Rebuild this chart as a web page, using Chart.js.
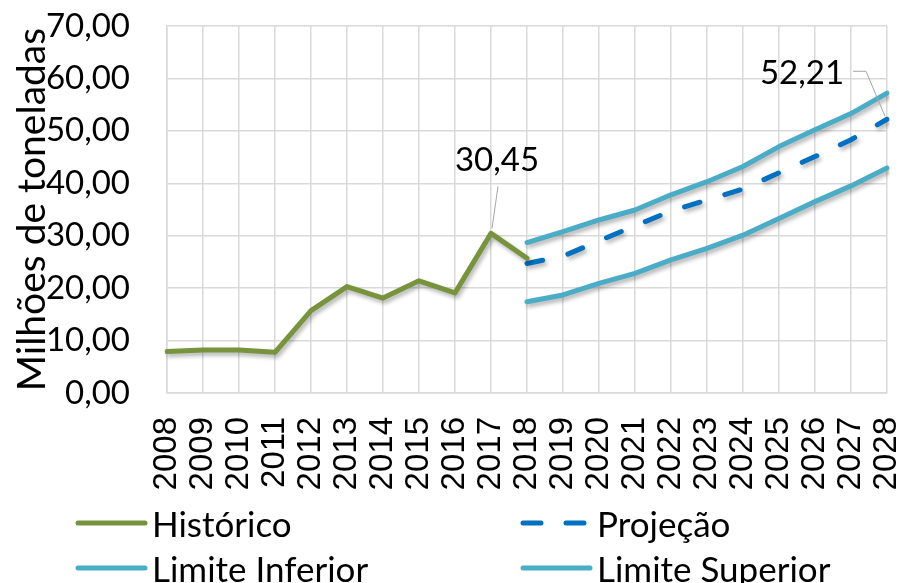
<!DOCTYPE html>
<html><head><meta charset="utf-8">
<script src="https://cdn.jsdelivr.net/npm/chart.js@4/dist/chart.umd.min.js"></script>
<style>
html,body{margin:0;padding:0;background:#fff;}
#wrap{position:relative;width:902px;height:583px;overflow:hidden;}
#legend{position:absolute;left:0;top:0;width:902px;height:583px;pointer-events:none;font-family:Lato,sans-serif;}
.li{position:absolute;display:flex;align-items:center;font-size:35px;color:#000;white-space:nowrap;line-height:1;}
.li canvas{margin-right:4px;}
</style></head><body>
<div id="wrap"><canvas id="c" width="902" height="583"></canvas><div id="legend"></div></div>
<script>
const years = ['2008','2009','2010','2011','2012','2013','2014','2015','2016','2017','2018','2019','2020','2021','2022','2023','2024','2025','2026','2027','2028'];
const historico = [7.9, 8.2, 8.2, 7.75, 15.7, 20.3, 18.1, 21.4, 19.1, 30.45, 25.7, null, null, null, null, null, null, null, null, null, null];
const projecao = [null, null, null, null, null, null, null, null, null, null, 24.7, 26.1, 29.0, 31.9, 34.7, 36.8, 38.9, 42.0, 45.1, 48.3, 52.21];
const limiteInferior = [null, null, null, null, null, null, null, null, null, null, 17.4, 18.7, 20.9, 22.8, 25.4, 27.6, 30.1, 33.3, 36.5, 39.5, 42.9];
const limiteSuperior = [null, null, null, null, null, null, null, null, null, null, 28.7, 30.8, 33.0, 34.9, 37.8, 40.3, 43.2, 47.0, 50.2, 53.3, 57.2];
const yTicks = [0, 10, 20, 30, 40, 50, 60, 70];
const yTitle = 'Milhões de toneladas';
const seriesNames = ['Histórico', 'Projeção', 'Limite Inferior', 'Limite Superior'];

const GREEN = '#77933C', BLUE = '#0070C0', CYAN = '#4BACC6';
const fmt = v => v.toFixed(2).replace('.', ',');

const shadowPlugin = {
  id: 'shadow',
  beforeDatasetDraw(chart) {
    const ctx = chart.ctx; ctx.save();
    ctx.shadowColor = 'rgba(0,0,0,0.3)';
    ctx.shadowBlur = 4; ctx.shadowOffsetX = 2; ctx.shadowOffsetY = 3;
  },
  afterDatasetDraw(chart) { chart.ctx.restore(); }
};

const labelPlugin = {
  id: 'valueLabels',
  afterDatasetsDraw(chart) {
    const ctx = chart.ctx;
    ctx.save();
    ctx.font = '33px Lato';
    ctx.fillStyle = '#000';
    ctx.textAlign = 'center'; ctx.textBaseline = 'middle';
    ctx.strokeStyle = '#A6A6A6'; ctx.lineWidth = 1;
    let mi = 0; historico.forEach((v, i) => { if (v != null && v > historico[mi]) mi = i; });
    const p = chart.getDatasetMeta(0).data[mi];
    ctx.beginPath(); ctx.moveTo(p.x + 7, p.y - 47); ctx.lineTo(p.x + 1, p.y - 5); ctx.stroke();
    ctx.fillText(fmt(historico[mi]), p.x + 6, p.y - 73);
    const li = projecao.length - 1;
    const q = chart.getDatasetMeta(1).data[li];
    ctx.beginPath(); ctx.moveTo(q.x - 34, q.y - 48); ctx.lineTo(q.x - 21, q.y - 48); ctx.lineTo(q.x - 2, q.y - 3); ctx.stroke();
    ctx.fillText(fmt(projecao[li]), q.x - 85, q.y - 46);
    ctx.restore();
  }
};

function noPad(s) { s.paddingTop = 0; s.paddingBottom = 0; s.paddingLeft = 0; s.paddingRight = 0; }

const chart = new Chart(document.getElementById('c'), {
  type: 'line',
  data: {
    labels: years,
    datasets: [
      { label: seriesNames[0], data: historico, borderColor: GREEN, borderWidth: 5, pointRadius: 0, borderJoinStyle: 'round', borderCapStyle: 'round' },
      { label: seriesNames[1], data: projecao, borderColor: BLUE, borderWidth: 5, pointRadius: 0, borderDash: [16, 26], borderCapStyle: 'round' },
      { label: seriesNames[2], data: limiteInferior, borderColor: CYAN, borderWidth: 5, pointRadius: 0, borderCapStyle: 'round', borderJoinStyle: 'round' },
      { label: seriesNames[3], data: limiteSuperior, borderColor: CYAN, borderWidth: 5, pointRadius: 0, borderCapStyle: 'round', borderJoinStyle: 'round' }
    ]
  },
  options: {
    responsive: false, animation: false, devicePixelRatio: 1,
    layout: { autoPadding: false, padding: { left: 0, right: 15, top: 26, bottom: 90 } },
    plugins: { legend: { display: false }, tooltip: { enabled: false } },
    scales: {
      x: {
        offset: false,
        grid: { color: '#D9D9D9', lineWidth: 1.5, drawTicks: false },
        border: { color: '#D9D9D9', width: 1.5 },
        ticks: { autoSkip: false, maxRotation: 90, minRotation: 90, padding: 24, color: '#000', font: { family: 'Liberation Sans', size: 33 } },
        afterFit(s) { s.height = 100; noPad(s); }
      },
      y: {
        min: yTicks[0], max: yTicks[yTicks.length - 1],
        afterBuildTicks(s) { s.ticks = yTicks.map(v => ({ value: v })); },
        grid: { color: '#D9D9D9', lineWidth: 1.5, drawTicks: false },
        border: { color: '#D9D9D9', width: 1.5 },
        ticks: { padding: 37, color: '#000', font: { family: 'Lato', size: 33 }, callback: v => fmt(v) },
        title: { display: true, text: yTitle, color: '#000', font: { family: 'Lato', size: 39 }, padding: { top: 9, bottom: 0 } },
        afterFit(s) { s.width = 167; noPad(s); }
      }
    }
  },
  plugins: [shadowPlugin, labelPlugin]
});

const leg = document.getElementById('legend');
const items = [
  { name: seriesNames[0], color: GREEN, dash: false, x: 75, y: 523 },
  { name: seriesNames[1], color: BLUE, dash: true, x: 520, y: 523 },
  { name: seriesNames[2], color: CYAN, dash: false, x: 75, y: 568 },
  { name: seriesNames[3], color: CYAN, dash: false, x: 520, y: 568 }
];
items.forEach(it => {
  const d = document.createElement('div'); d.className = 'li';
  d.style.left = it.x + 'px'; d.style.top = (it.y - 20) + 'px'; d.style.height = '40px';
  const c = document.createElement('canvas'); c.width = 73; c.height = 10;
  const g = c.getContext('2d'); g.strokeStyle = it.color; g.lineWidth = 5; g.lineCap = 'round';
  g.beginPath();
  if (it.dash) { g.moveTo(3, 5); g.lineTo(21, 5); g.moveTo(46, 5); g.lineTo(64, 5); }
  else { g.moveTo(3, 5); g.lineTo(70, 5); }
  g.stroke();
  d.appendChild(c);
  const s = document.createElement('span'); s.textContent = it.name; d.appendChild(s);
  leg.appendChild(d);
});
</script>
</body></html>
